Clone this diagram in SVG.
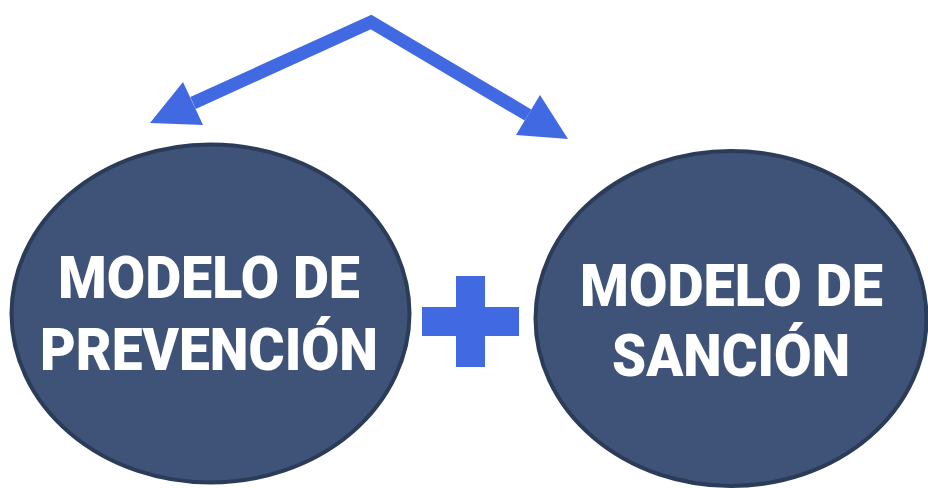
<svg xmlns="http://www.w3.org/2000/svg" width="928" height="488" viewBox="0 0 928 488">
<style>
.node{fill:#3F5378;stroke:#2B3C58;stroke-width:4}
.lbl{font-family:Roboto,"Liberation Sans",sans-serif;font-weight:900;font-size:59px;fill:#FFFFFF}
.conn{fill:none;stroke:#4169E1;stroke-width:13;stroke-linejoin:miter}
.head{fill:#4169E1}
</style>
<rect width="928" height="488" fill="#FFFFFF"/>
<g id="connectors">
<path class="conn" d="M193,103 L371,22 L528,115"/>
<polygon class="head" points="150,123 183,82 203,125"/>
<polygon class="head" points="568,139 540,95 516,135"/>
</g>
<g id="prevencion">
<ellipse class="node" cx="210.5" cy="313.5" rx="199" ry="169"/>
<text class="lbl" x="58" y="298" textLength="302" lengthAdjust="spacingAndGlyphs">MODELO DE</text>
<text class="lbl" x="40" y="370" textLength="338" lengthAdjust="spacingAndGlyphs">PREVENCIÓN</text>
</g>
<g id="plus">
<rect class="head" x="422" y="307" width="97" height="29"/>
<rect class="head" x="456" y="276" width="29" height="91"/>
</g>
<g id="sancion">
<ellipse class="node" cx="731" cy="318.5" rx="195.5" ry="167.5"/>
<text class="lbl" x="580" y="306" textLength="303" lengthAdjust="spacingAndGlyphs">MODELO DE</text>
<text class="lbl" x="612" y="376" textLength="238" lengthAdjust="spacingAndGlyphs">SANCIÓN</text>
</g>
</svg>
